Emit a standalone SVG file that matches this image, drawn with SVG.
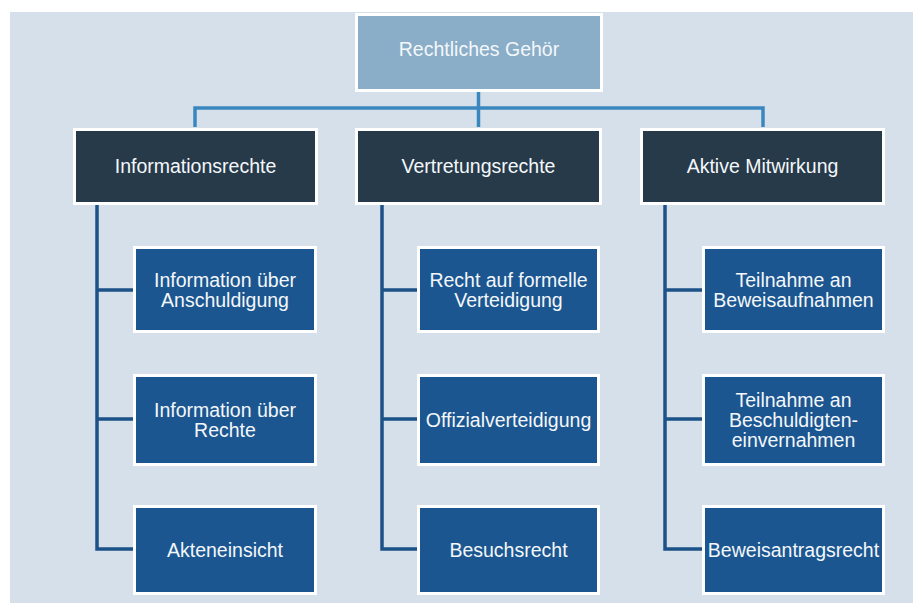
<svg xmlns="http://www.w3.org/2000/svg" width="913" height="603" viewBox="0 0 913 603">
  <style>
    .box { stroke: #ffffff; stroke-width: 3; }
    .root { fill: #8aaec8; }
    .cat { fill: #263a4a; }
    .item { fill: #1b5690; }
    .lbl { font-family: "Liberation Sans", Arial, sans-serif; font-size: 19.5px; fill: #f4f7fa; text-anchor: middle; }
    .trunk { fill: none; stroke: #3a86be; stroke-width: 3.5; }
    .spine { fill: none; stroke: #1d5288; stroke-width: 3.5; }
  </style>

  <!-- panel background -->
  <rect x="0" y="0" width="913" height="603" fill="#ffffff"/>
  <rect x="10" y="12" width="903" height="591" fill="#d5e0ea"/>

  <!-- connectors -->
  <g id="connectors">
    <path class="trunk" d="M478.5 91 V108 M195 127 V108 H763 V127 M478.5 108 V127"/>
    <path class="spine" d="M97 205 V549 H133 M97 290 H133 M97 419 H133"/>
    <path class="spine" d="M382 205 V549 H417 M382 290 H417 M382 419 H417"/>
    <path class="spine" d="M665 205 V549 H702 M665 290 H702 M665 419 H702"/>
  </g>

  <!-- root -->
  <g id="rechtliches-gehoer">
    <rect class="box root" x="356.5" y="14.5" width="245" height="76"/>
    <text class="lbl" x="479" y="56">Rechtliches Gehör</text>
  </g>

  <!-- categories -->
  <g id="informationsrechte">
    <rect class="box cat" x="74.5" y="129.5" width="242" height="74"/>
    <text class="lbl" x="195.5" y="173">Informationsrechte</text>
  </g>
  <g id="vertretungsrechte">
    <rect class="box cat" x="356.5" y="129.5" width="244" height="74"/>
    <text class="lbl" x="478.5" y="173">Vertretungsrechte</text>
  </g>
  <g id="aktive-mitwirkung">
    <rect class="box cat" x="641.5" y="129.5" width="242" height="74"/>
    <text class="lbl" x="762.5" y="173">Aktive Mitwirkung</text>
  </g>

  <!-- Informationsrechte items -->
  <g id="info-anschuldigung">
    <rect class="box item" x="134.5" y="247.5" width="181" height="84"/>
    <text class="lbl" x="225" y="286.5">Information über</text>
    <text class="lbl" x="225" y="306.5">Anschuldigung</text>
  </g>
  <g id="info-rechte">
    <rect class="box item" x="134.5" y="375.5" width="181" height="89"/>
    <text class="lbl" x="225" y="416.5">Information über</text>
    <text class="lbl" x="225" y="436.5">Rechte</text>
  </g>
  <g id="akteneinsicht">
    <rect class="box item" x="134.5" y="506.5" width="181" height="87"/>
    <text class="lbl" x="225" y="557">Akteneinsicht</text>
  </g>

  <!-- Vertretungsrechte items -->
  <g id="formelle-verteidigung">
    <rect class="box item" x="418.5" y="247.5" width="180" height="84"/>
    <text class="lbl" x="508.5" y="286.5">Recht auf formelle</text>
    <text class="lbl" x="508.5" y="306.5">Verteidigung</text>
  </g>
  <g id="offizialverteidigung">
    <rect class="box item" x="418.5" y="375.5" width="180" height="89"/>
    <text class="lbl" x="508.5" y="426.5">Offizialverteidigung</text>
  </g>
  <g id="besuchsrecht">
    <rect class="box item" x="418.5" y="506.5" width="180" height="87"/>
    <text class="lbl" x="508.5" y="557">Besuchsrecht</text>
  </g>

  <!-- Aktive Mitwirkung items -->
  <g id="beweisaufnahmen">
    <rect class="box item" x="703.5" y="247.5" width="180" height="84"/>
    <text class="lbl" x="793.5" y="286.5">Teilnahme an</text>
    <text class="lbl" x="793.5" y="306.5">Beweisaufnahmen</text>
  </g>
  <g id="beschuldigteneinvernahmen">
    <rect class="box item" x="703.5" y="375.5" width="180" height="89"/>
    <text class="lbl" x="793.5" y="406.5">Teilnahme an</text>
    <text class="lbl" x="793.5" y="426.5">Beschuldigten-</text>
    <text class="lbl" x="793.5" y="446.5">einvernahmen</text>
  </g>
  <g id="beweisantragsrecht">
    <rect class="box item" x="703.5" y="506.5" width="180" height="87"/>
    <text class="lbl" x="793.5" y="557">Beweisantragsrecht</text>
  </g>
</svg>
